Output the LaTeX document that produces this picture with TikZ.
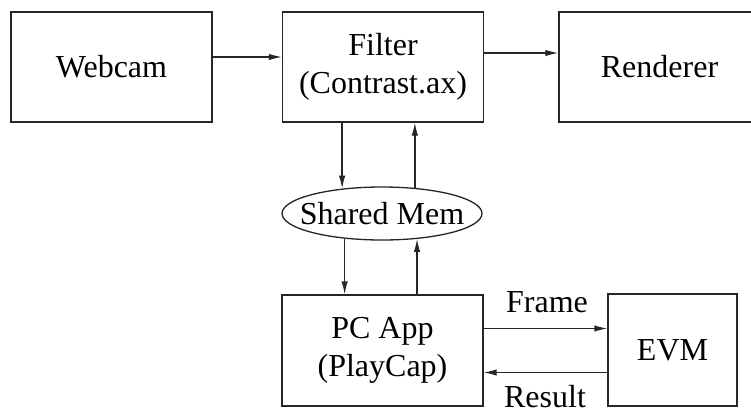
\documentclass[tikz,border=0pt]{standalone}
\usepackage{fontspec}
\setmainfont{Liberation Serif}
\usetikzlibrary{shapes.geometric,arrows.meta}

\tikzset{
  block/.style={draw=black!85, line width=1.3pt, fill=white, inner sep=0pt,
    align=center, font=\fontsize{32}{38.5}\selectfont},
  memnode/.style={ellipse, draw=black!85, line width=1.3pt, inner sep=0pt,
    minimum width=200pt, minimum height=53pt, font=\fontsize{32}{38.5}\selectfont},
  tag/.style={inner sep=0pt, font=\fontsize{32}{38.5}\selectfont},
  arr/.style={draw=black!85, line width=1.3pt, -{Latex[length=13pt,width=6.5pt]}},
}

\begin{document}
\begin{tikzpicture}[x=1pt,y=-1pt]
  \useasboundingbox (0,0) rectangle (751,415);
  \clip (0,0) rectangle (751,415);
  \fill[white] (0,0) rectangle (751,415);

  % top row of processing blocks
  \node[block, minimum width=201pt, minimum height=110pt] (webcam) at (111.5,67) {Webcam};
  \node[block, minimum width=201pt, minimum height=110pt] (filter) at (383,67) {Filter\\(Contrast.ax)};
  \node[block, minimum width=201pt, minimum height=110pt] (renderer) at (659.5,67) {Renderer};

  % shared memory between the filter and the capture application;
  % the label is boxed at zero width so the ellipse keeps its set size
  \node[memnode] (shm) at (382,213.5) {\makebox[0pt]{Shared Mem}};

  % bottom row
  \node[block, minimum width=201pt, minimum height=111pt] (pcapp) at (382.5,350.5) {PC App\\(PlayCap)};
  \node[block, minimum width=129pt, minimum height=112pt] (evm) at (672.5,350) {EVM};

  % edge labels
  \node[tag, anchor=base] (framelbl) at (547,312) {Frame};
  \node[tag, anchor=base] (resultlbl) at (545,407) {Result};

  % video pipeline
  \draw[arr] ([yshift=10pt]webcam.east) -- ([yshift=10pt]filter.west);
  \draw[arr] ([yshift=14pt]filter.east) -- ([yshift=14pt]renderer.west);

  % filter <-> shared memory
  \draw[arr] (filter.south -| shm.148) -- (shm.148);
  \draw[arr] (shm.38) -- (filter.south -| shm.38);

  % shared memory <-> application
  \draw[arr] (shm.214) -- (pcapp.north -| shm.214);
  \draw[arr] (pcapp.north -| shm.324) -- (shm.324);

  % application <-> EVM
  \coordinate (frameout) at ([yshift=22pt]pcapp.east);
  \coordinate (resultin) at ([yshift=-22pt]pcapp.east);
  \draw[arr] (frameout) -- (evm.west |- frameout);
  \draw[arr] (evm.west |- resultin) -- (resultin);
\end{tikzpicture}
\end{document}
